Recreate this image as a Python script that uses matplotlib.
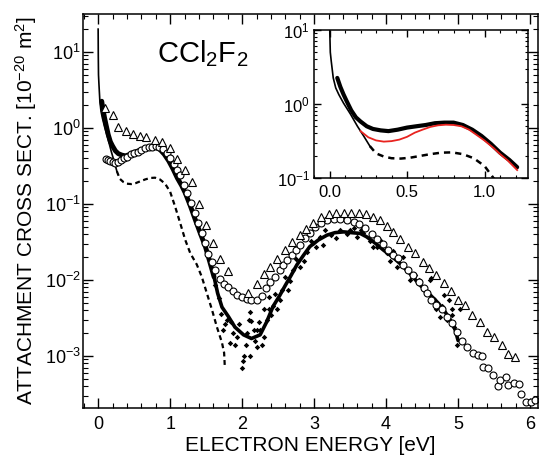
import numpy as np
import matplotlib
matplotlib.use('Agg')
import matplotlib.pyplot as plt
from matplotlib.ticker import MultipleLocator, LogLocator, NullFormatter

plt.rcParams['font.family'] = ['Liberation Sans', 'DejaVu Sans']
plt.rcParams['mathtext.fontset'] = 'custom'
plt.rcParams['mathtext.rm'] = 'Liberation Sans'
plt.rcParams['mathtext.it'] = 'Liberation Sans:italic'
plt.rcParams['mathtext.bf'] = 'Liberation Sans:bold'

# %% datos leidos de la figura
# puntos llenos (medicion densa)
black_e = [0.05, 0.07, 0.09, 0.11, 0.14, 0.17, 0.20, 0.24, 0.28, 0.33,
           0.38, 0.44, 0.50, 0.56, 0.62, 0.68, 0.74, 0.80, 0.86, 0.92,
           0.98, 1.04, 1.10, 1.16, 1.21, 1.28, 1.35, 1.42, 1.49, 1.55,
           1.61, 1.66, 1.72, 1.81, 1.90, 2.02, 2.13, 2.25, 2.34, 2.43,
           2.52, 2.60, 2.68, 2.76, 2.85, 2.94, 3.06, 3.18, 3.29, 3.41,
           3.52, 3.64, 3.73, 3.85, 3.96, 4.08, 4.19, 4.33, 4.47, 4.61,
           4.73, 4.82, 4.91, 4.96, 5.00]
black_s = [2.25, 1.70, 1.35, 1.10, 0.82, 0.66, 0.58, 0.50, 0.46, 0.44,
           0.43, 0.45, 0.48, 0.50, 0.52, 0.55, 0.56, 0.56, 0.52, 0.45,
           0.37, 0.29, 0.22, 0.175, 0.14, 0.095, 0.062, 0.041, 0.0275, 0.0175,
           0.011, 0.0067, 0.0044, 0.0033, 0.0024, 0.0019, 0.0017, 0.0019, 0.0028, 0.0045,
           0.0062, 0.0085, 0.0115, 0.0158, 0.021, 0.0275, 0.0337, 0.039, 0.042, 0.043,
           0.042, 0.041, 0.037, 0.0305, 0.0249, 0.0205, 0.0166, 0.0122, 0.0086, 0.0064,
           0.0049, 0.0038, 0.0028, 0.0022, 0.0016]

# puntos sueltos de la misma medicion
scat_e = [1.62, 1.68, 1.70, 1.74, 1.76, 1.79, 1.83, 1.85, 1.88, 1.90,
          1.93, 1.96, 2.00, 2.01, 2.02, 2.05, 2.07, 2.09, 2.11, 2.11,
          2.13, 2.16, 2.18, 2.20, 2.20, 2.23, 2.25, 2.28, 2.30, 2.30,
          2.34, 2.37, 2.37, 2.40, 2.43, 2.45, 2.48, 2.53, 2.56, 2.60,
          2.64, 2.66, 2.71, 2.75, 2.81, 2.86, 2.90, 2.95, 2.99, 3.02,
          3.08, 3.13, 3.15, 3.24, 3.30, 3.36, 3.45, 3.50, 3.55, 3.59,
          3.65, 3.68, 3.78, 3.82, 3.88, 3.92, 4.01, 4.05, 4.10, 4.15,
          4.24, 4.28, 4.33, 4.40, 4.45, 4.52, 4.56, 4.61, 4.63, 4.66,
          4.70, 4.75, 4.78, 4.80, 4.85, 4.87, 4.91, 4.92, 4.94, 4.98,
          5.00, 5.03]
scat_s = [0.0085, 0.0058, 0.0036, 0.0022, 0.0026, 0.0030, 0.0015, 0.0028, 0.0020, 0.0014,
          0.0018, 0.0026, 0.0007, 0.00085, 0.0010, 0.0014, 0.0020, 0.0030, 0.0038, 0.0010,
          0.0029, 0.0022, 0.0016, 0.0013, 0.0022, 0.0028, 0.0022, 0.0014, 0.0018, 0.0042,
          0.0030, 0.0041, 0.0060, 0.0035, 0.0045, 0.0065, 0.0041, 0.0055, 0.0075, 0.0110,
          0.0075, 0.0098, 0.0136, 0.0190, 0.0150, 0.0180, 0.0237, 0.0330, 0.0305, 0.0270,
          0.0370, 0.0290, 0.0450, 0.0390, 0.0360, 0.0456, 0.0400, 0.0456, 0.0480, 0.0370,
          0.0450, 0.0410, 0.0330, 0.0275, 0.0270, 0.0337, 0.0225, 0.0180, 0.0240, 0.0150,
          0.0203, 0.0140, 0.0100, 0.0115, 0.0100, 0.0074, 0.0068, 0.0100, 0.0105, 0.0056,
          0.0041, 0.0033, 0.0045, 0.0064, 0.0030, 0.0055, 0.0041, 0.0035, 0.0024, 0.0014,
          0.0020, 0.0041]

# circulos abiertos
circ_e = [0.11, 0.14, 0.17, 0.20, 0.24, 0.28, 0.32, 0.36, 0.40, 0.45,
          0.50, 0.55, 0.60, 0.65, 0.70, 0.75, 0.80, 0.85, 0.90, 0.95,
          1.00, 1.05, 1.10, 1.14, 1.19, 1.24, 1.29, 1.34, 1.39, 1.44,
          1.49, 1.53, 1.58, 1.63, 1.69, 1.75, 1.81, 1.87, 1.93, 2.00,
          2.07, 2.13, 2.20, 2.27, 2.33, 2.39, 2.46, 2.53, 2.57, 2.63,
          2.69, 2.75, 2.81, 2.88, 2.94, 3.01, 3.09, 3.18, 3.27, 3.36,
          3.45, 3.55, 3.63, 3.71, 3.80, 3.88, 3.96, 4.03, 4.10, 4.17,
          4.24, 4.31, 4.38, 4.45, 4.52, 4.57, 4.63, 4.70, 4.77, 4.84,
          4.91, 4.98, 5.05, 5.12, 5.21, 5.28, 5.33, 5.34, 5.41, 5.48,
          5.55, 5.58, 5.67, 5.70, 5.77, 5.84, 5.88, 5.95, 6.01, 6.07]
circ_s = [0.39, 0.38, 0.37, 0.36, 0.35, 0.36, 0.38, 0.40, 0.42, 0.45,
          0.47, 0.49, 0.51, 0.54, 0.56, 0.57, 0.58, 0.57, 0.53, 0.47,
          0.40, 0.34, 0.28, 0.24, 0.178, 0.138, 0.102, 0.077, 0.056, 0.041,
          0.0305, 0.0221, 0.0174, 0.0135, 0.0102, 0.0089, 0.0080, 0.0071, 0.0063, 0.0059,
          0.0056, 0.0054, 0.0055, 0.0062, 0.0078, 0.0095, 0.0110, 0.0136, 0.0158, 0.0183,
          0.0213, 0.0249, 0.0289, 0.0354, 0.0419, 0.0500, 0.0568, 0.0617, 0.0630, 0.0630,
          0.0617, 0.0585, 0.0547, 0.0480, 0.0403, 0.0343, 0.0298, 0.0249, 0.0213, 0.0193,
          0.0158, 0.0136, 0.0117, 0.0095, 0.0078, 0.0067, 0.0055, 0.0047, 0.0041, 0.0033,
          0.0027, 0.0021, 0.0016, 0.0013, 0.0011, 0.00103, 0.00099, 0.00072, 0.00069, 0.00056,
          0.00040, 0.00049, 0.00053, 0.00041, 0.00044, 0.00043, 0.00032, 0.00025, 0.00025, 0.00026]

# triangulos abiertos
tri_e = [0.09, 0.20, 0.28, 0.385, 0.49, 0.58, 0.67, 0.79, 0.89, 1.00,
         1.10, 1.20, 1.30, 1.40, 1.50, 1.59, 1.69, 1.80, 2.08, 2.20,
         2.30, 2.39, 2.49, 2.60, 2.69, 2.80, 2.89, 2.98, 3.09, 3.20,
         3.31, 3.41, 3.51, 3.62, 3.72, 3.82, 3.91, 4.01, 4.10, 4.19,
         4.30, 4.40, 4.51, 4.60, 4.70, 4.80, 4.90, 5.00, 5.10, 5.20,
         5.30, 5.40, 5.50, 5.61, 5.70, 5.79]
tri_s = [1.82, 1.48, 1.02, 0.92, 0.83, 0.785, 0.755, 0.695, 0.65, 0.54,
         0.39, 0.28, 0.196, 0.100, 0.053, 0.0304, 0.0187, 0.0131, 0.0067, 0.0088,
         0.0120, 0.0147, 0.0187, 0.0248, 0.0316, 0.0390, 0.0465, 0.0568, 0.0668, 0.0731,
         0.0755, 0.0769, 0.0769, 0.0755, 0.0731, 0.0680, 0.0615, 0.0518, 0.0432, 0.0343,
         0.0274, 0.0229, 0.0174, 0.0143, 0.0116, 0.00905, 0.00724, 0.00546, 0.00469, 0.00346,
         0.00282, 0.00209, 0.00176, 0.00140, 0.00106, 0.00096]

# curva teorica: tramo continuo y tramo a trazos
thin_e = [0.0, 0.002, 0.005, 0.011, 0.024, 0.04, 0.06, 0.09, 0.135, 0.18, 0.22, 0.26]
thin_s = [20, 9, 5, 3.8, 2.25, 1.65, 1.34, 1.03, 0.73, 0.50, 0.37, 0.27]
dash_e = [0.26, 0.30, 0.35, 0.40, 0.46, 0.52, 0.58, 0.65, 0.72, 0.79,
          0.86, 0.93, 1.00, 1.07, 1.14, 1.21, 1.28, 1.37, 1.44, 1.51,
          1.58, 1.65, 1.72, 1.75, 1.76]
dash_s = [0.27, 0.215, 0.195, 0.185, 0.183, 0.188, 0.198, 0.21, 0.22, 0.222,
          0.21, 0.185, 0.145, 0.092, 0.056, 0.0337, 0.0225, 0.016, 0.011, 0.0067,
          0.0041, 0.0024, 0.0015, 0.0011, 0.0007]

# curva roja del recuadro
red_e = [0.20, 0.25, 0.30, 0.35, 0.40, 0.45, 0.50, 0.55, 0.60, 0.65,
         0.70, 0.75, 0.80, 0.85, 0.90, 0.95, 1.00, 1.06, 1.10, 1.15, 1.21]
red_s = [0.43, 0.355, 0.322, 0.31, 0.315, 0.33, 0.36, 0.41, 0.45, 0.49,
         0.515, 0.525, 0.52, 0.50, 0.45, 0.38, 0.32, 0.252, 0.21, 0.172, 0.128]

black_e = np.array(black_e)
black_s = np.array(black_s)


def estilo_ejes(ax, xmaj, xmin, lmaj, lmin, fs, padx, pady):
    ax.set_yscale('log')
    ax.xaxis.set_major_locator(MultipleLocator(xmaj))
    ax.xaxis.set_minor_locator(MultipleLocator(xmin))
    ax.yaxis.set_major_locator(LogLocator(base=10, numticks=20))
    ax.yaxis.set_minor_locator(LogLocator(base=10, subs=np.arange(2, 10), numticks=20))
    ax.yaxis.set_minor_formatter(NullFormatter())
    ax.tick_params(which='both', direction='in', top=True, right=True, labelsize=fs)
    ax.tick_params(which='major', length=lmaj, width=1)
    ax.tick_params(which='minor', length=lmin, width=0.8)
    ax.tick_params(axis='x', pad=padx)
    ax.tick_params(axis='y', pad=pady)
    for s in ax.spines.values():
        s.set_linewidth(1.1)


# %% figura principal
fig = plt.figure(figsize=(5.43, 4.57), dpi=100)
ax = fig.add_axes([0.1529, 0.1072, 0.8379, 0.8621])

ax.plot(thin_e, thin_s, '-k', lw=1.2)
ax.plot(dash_e, dash_s, color='k', lw=1.6, ls=(0, (2.2, 1.6)))
tramo1 = black_e <= 1.61
tramo2 = black_e >= 1.61
ax.plot(black_e[tramo1], black_s[tramo1], '-k', lw=3.5, solid_capstyle='round')
ax.plot(black_e[tramo2], black_s[tramo2], '-k', lw=2.6, solid_capstyle='round')
ax.plot(scat_e, scat_s, 'kD', ms=2.8, mew=0)
ax.plot(circ_e, circ_s, 'o', ms=5, mfc='white', mec='k', mew=0.8)
ax.plot(tri_e, tri_s, '^', ms=5.5, mfc='white', mec='k', mew=0.8)

ax.set_xlim(-0.21, 6.11)
ax.set_ylim(2.07e-4, 31.6)
estilo_ejes(ax, 1, 0.2, 7, 3.5, 13, 6, 1.5)
ax.set_xlabel('ELECTRON ENERGY [eV]', fontsize=15, labelpad=2)
ax.set_ylabel(r'ATTACHMENT CROSS SECT. [10$^{\mathregular{-20}}$ m$^{\mathregular{2}}$]',
              fontsize=15, labelpad=4)
ax.text(0.163, 0.878, r'CCl$_{\mathregular{2}}$F$_{\mathregular{2}}$', fontsize=21,
        transform=ax.transAxes, va='baseline')

# %% recuadro
axi = fig.add_axes([0.5783, 0.6105, 0.3941, 0.3239])
sel = black_e <= 1.22
axi.plot(thin_e, thin_s, '-k', lw=1.2)
axi.plot(dash_e, dash_s, color='k', lw=1.8, ls=(0, (2.5, 2.0)))
axi.plot(black_e[sel], black_s[sel], '-k', lw=3.0, solid_capstyle='round')
axi.plot(red_e, red_s, '-', color='#e8231f', lw=1.3)
axi.set_xlim(-0.1, 1.28)
axi.set_ylim(0.1, 10)
estilo_ejes(axi, 0.5, 0.1, 5, 2.5, 12, 5, 3)
axi.xaxis.set_major_formatter(plt.FuncFormatter(lambda v, p: '%.1f' % v))

plt.savefig('out.png', dpi=100)
